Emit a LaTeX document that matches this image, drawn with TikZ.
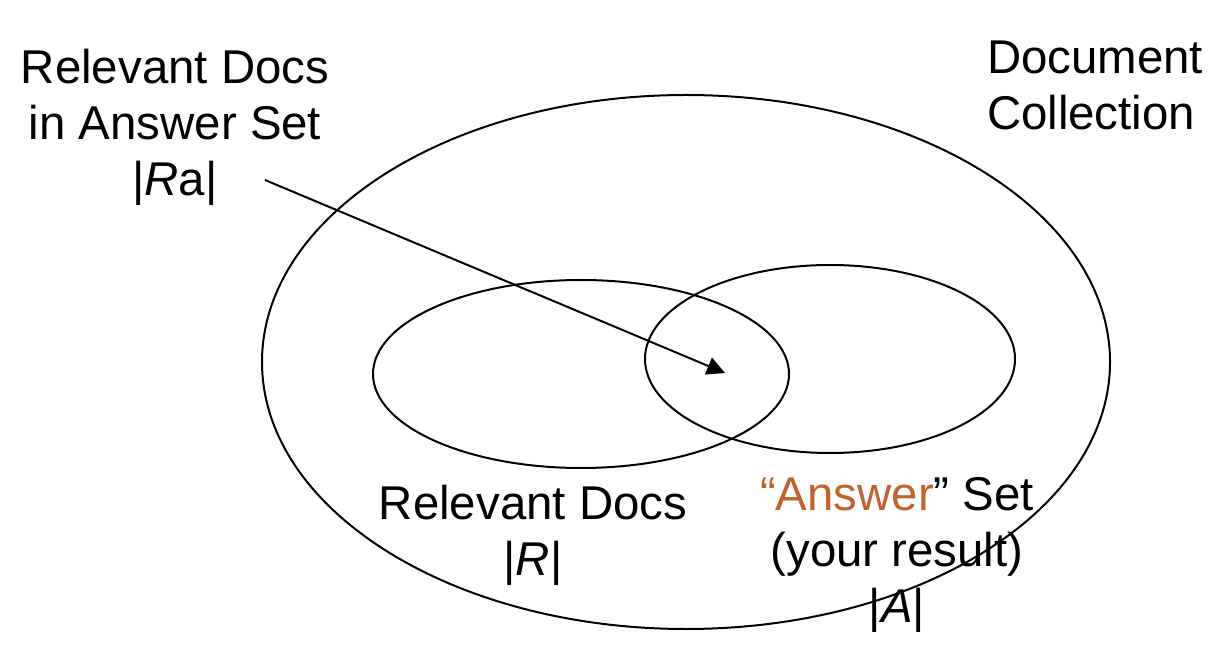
\documentclass[tikz,border=0pt]{standalone}
\usepackage{fontspec}
\setmainfont{Liberation Sans}
\usepackage{xcolor}
\usetikzlibrary{shapes.geometric,arrows.meta}
\definecolor{answerish}{RGB}{192,98,46}

\begin{document}
\begin{tikzpicture}[
   x=0.5pt, y=-0.5pt,
   every node/.append style={align=center, inner sep=0pt, font=\fontsize{23.7}{28}\selectfont},
   setbox/.style={draw, ellipse, line width=1pt, inner sep=0pt}
]
\useasboundingbox (0,0) rectangle (1218,656);

\node[setbox, minimum width=424pt, minimum height=267pt] (coll) at (686,362) {};
\node[setbox, minimum width=208pt, minimum height=94pt] (relv) at (581,374) {};
\node[setbox, minimum width=185pt, minimum height=94pt] (answ) at (830,359) {};

\node (ralabel) at (175,127) {Relevant Docs\\in Answer Set\\\textbar\textit{R}a\textbar};
\node[align=left] (colllabel) at (1095,85) {Document\\Collection};
\node (rlabel) at (533,535) {Relevant Docs\\\textbar\textit{R}\textbar};
\node (alabel) at (897,555) {\textcolor{answerish}{``Answer}'' Set\\(your result)\\\textbar\textit{A}\textbar};

\coordinate (rastart) at (265,180);
\coordinate (raend) at (725,373);
\draw[line width=1pt, -{Triangle[length=9pt,width=9pt]}] (rastart) -- (raend);
\end{tikzpicture}
\end{document}
